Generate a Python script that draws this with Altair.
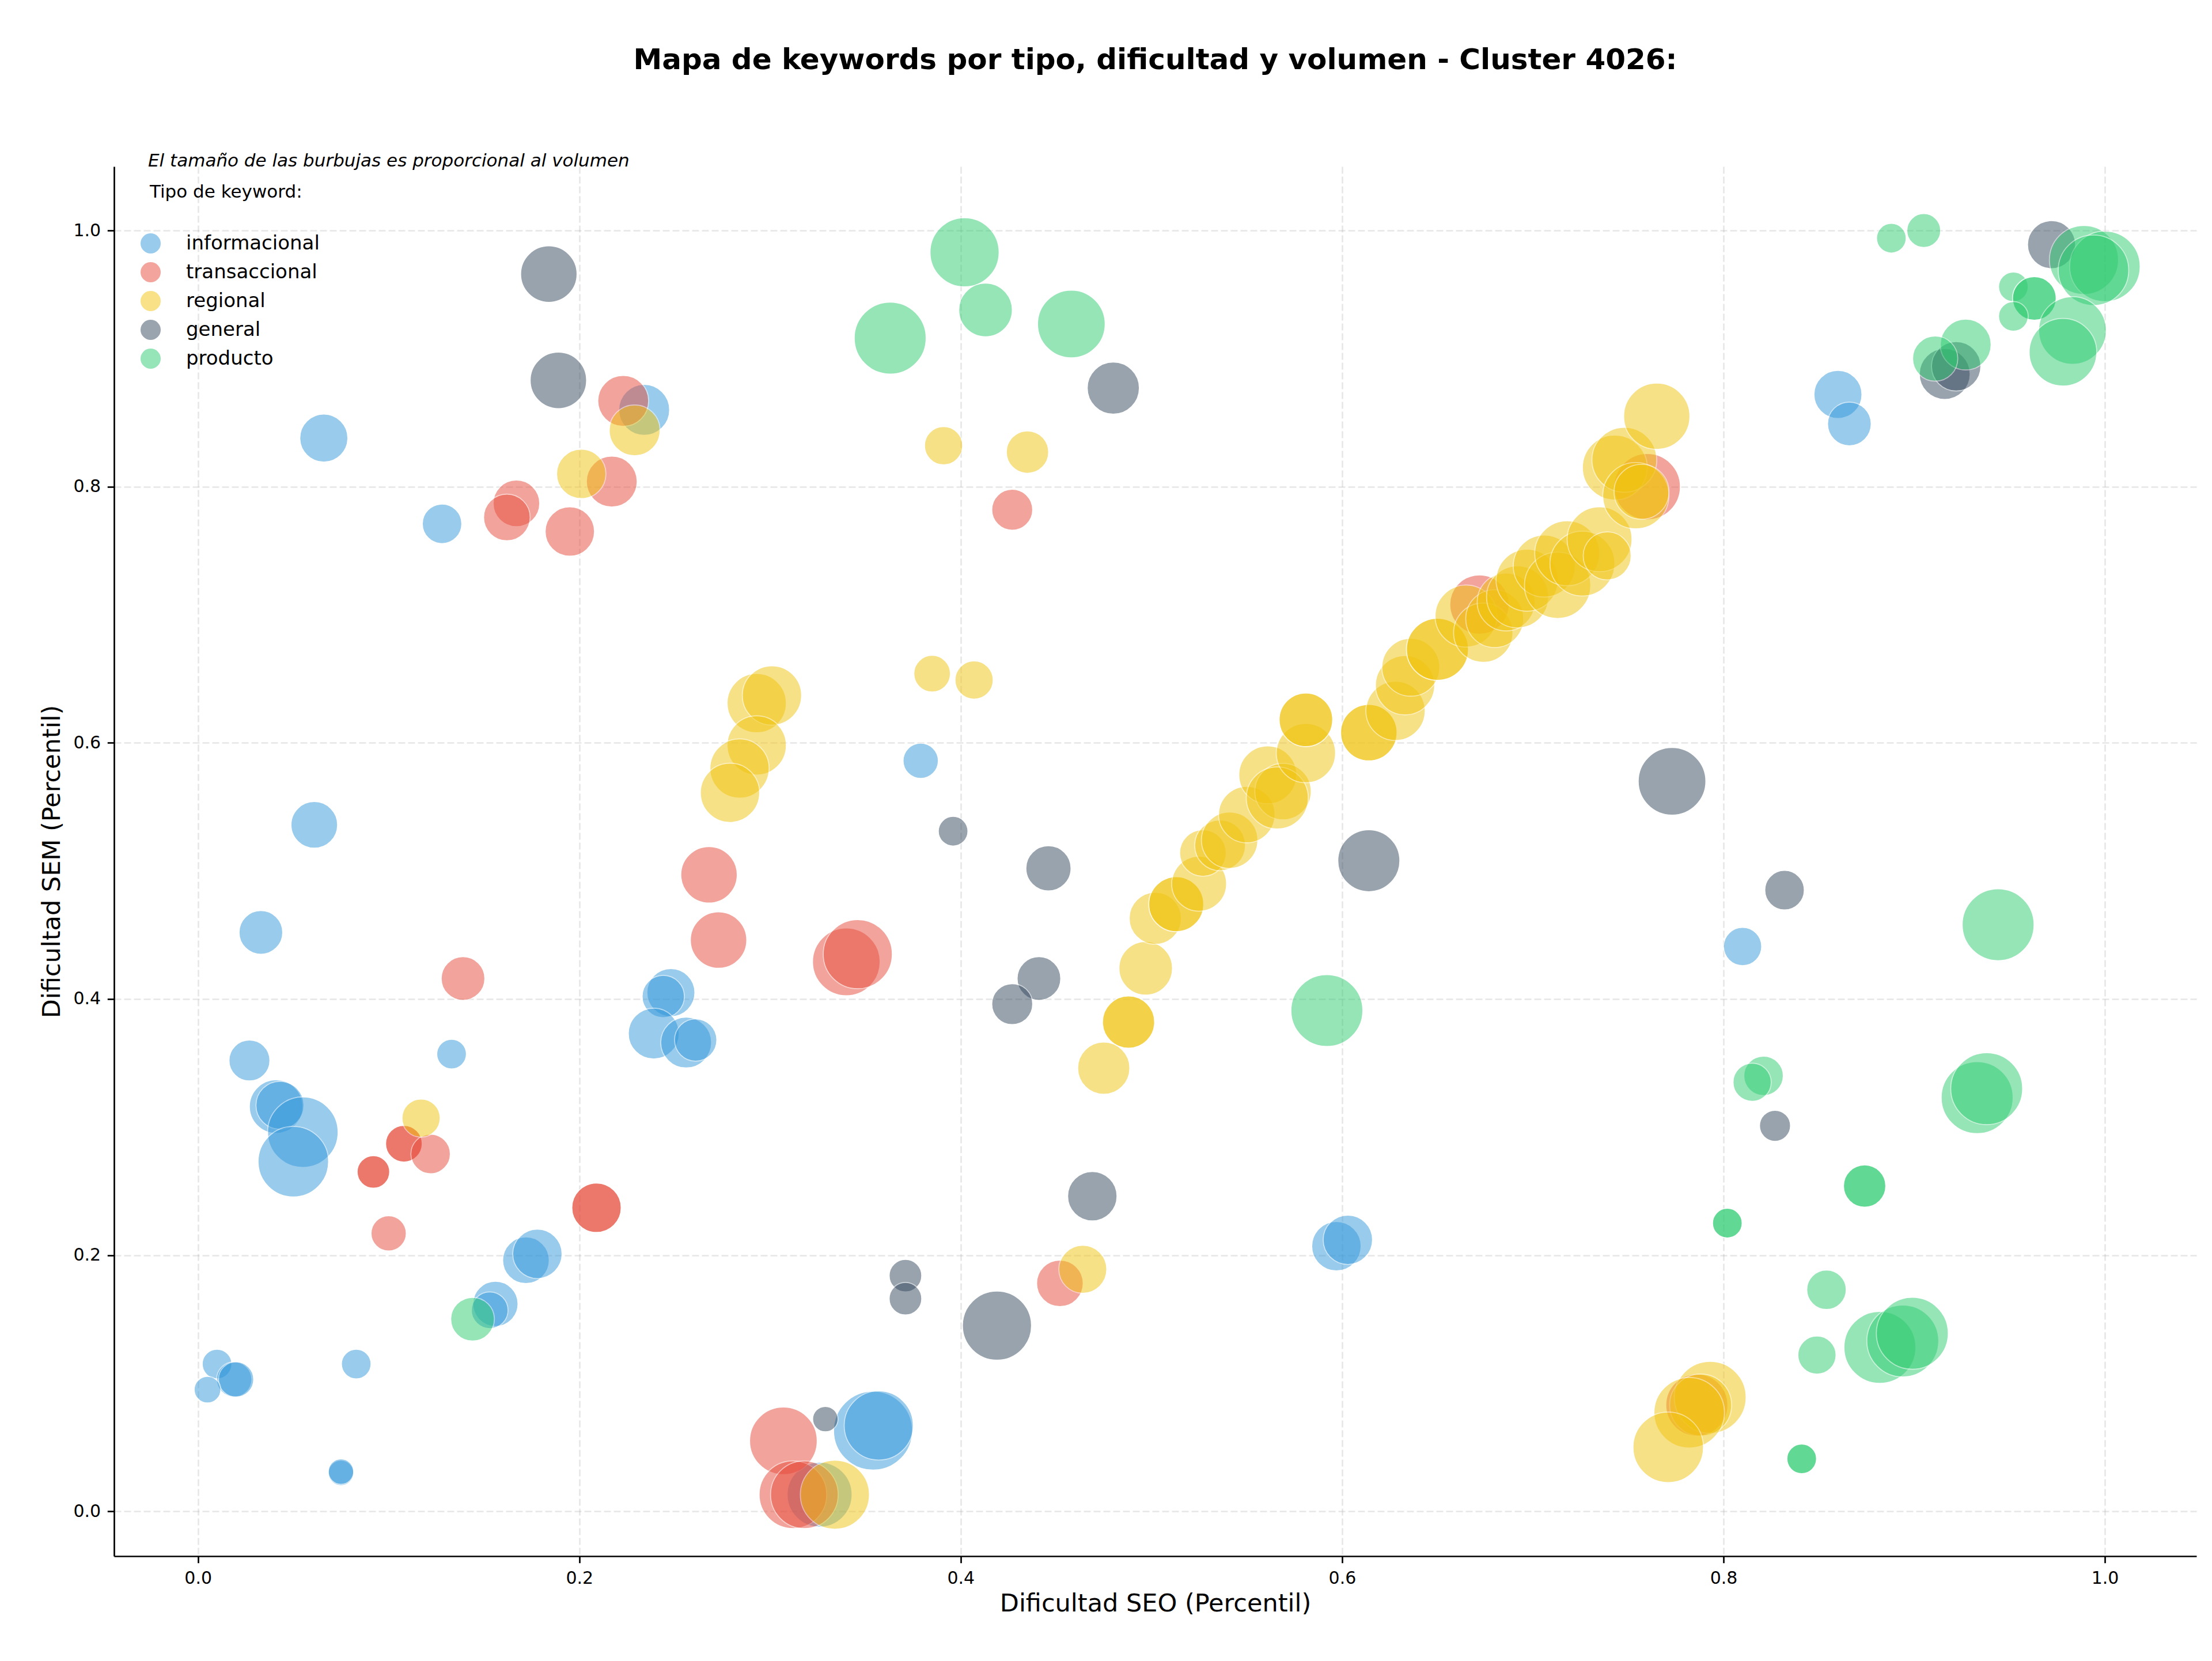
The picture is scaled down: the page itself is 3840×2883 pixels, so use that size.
import altair as alt
import pandas as pd

titulo = "Mapa de keywords por tipo, dificultad y volumen - Cluster 4026:"
nota = "El tamaño de las burbujas es proporcional al volumen"
tipos = ["informacional", "transaccional", "regional", "general", "producto"]
colores = ["#3498db", "#e74c3c", "#f1c40f", "#34495e", "#2ecc71"]
ticks = [0.0, 0.2, 0.4, 0.6, 0.8, 1.0]

info_seo = [0.066, 0.128, 0.061, 0.033, 0.027, 0.041, 0.043, 0.055, 0.050, 0.133,
            0.172, 0.178, 0.156, 0.153, 0.010, 0.019, 0.020, 0.005, 0.083, 0.075,
            0.075, 0.234, 0.248, 0.244, 0.239, 0.256, 0.261, 0.379, 0.354, 0.357,
            0.326, 0.597, 0.603, 0.810, 0.860, 0.866]
info_sem = [0.838, 0.771, 0.536, 0.452, 0.352, 0.316, 0.317, 0.296, 0.273, 0.357,
            0.196, 0.201, 0.162, 0.157, 0.115, 0.103, 0.103, 0.095, 0.115, 0.030,
            0.031, 0.860, 0.405, 0.402, 0.373, 0.366, 0.368, 0.586, 0.063, 0.067,
            0.013, 0.207, 0.212, 0.441, 0.872, 0.849]
info_vol = [695, 470, 655, 575, 505, 865, 695, 1500, 1500, 265,
            655, 735, 615, 405, 265, 375, 375, 215, 265, 195,
            195, 780, 695, 540, 780, 780, 540, 375, 1880, 1440,
            1270, 735, 735, 440, 695, 575]

trans_seo = [0.223, 0.217, 0.167, 0.162, 0.195, 0.139, 0.108, 0.108, 0.122, 0.092,
             0.092, 0.100, 0.209, 0.209, 0.268, 0.273, 0.340, 0.346, 0.427, 0.452,
             0.307, 0.312, 0.318, 0.672, 0.760, 0.786]
trans_sem = [0.867, 0.804, 0.787, 0.776, 0.765, 0.416, 0.287, 0.287, 0.279, 0.265,
             0.265, 0.217, 0.237, 0.237, 0.497, 0.446, 0.429, 0.435, 0.782, 0.178,
             0.055, 0.013, 0.013, 0.708, 0.800, 0.083]
trans_vol = [780, 780, 655, 655, 735, 575, 405, 405, 470, 320,
             320, 375, 735, 735, 960, 960, 1380, 1440, 505, 655,
             1380, 1380, 1380, 1060, 1325, 1160]

reg_seo = [0.229, 0.201, 0.117, 0.293, 0.301, 0.293, 0.284, 0.279, 0.391, 0.435,
           0.385, 0.407, 0.334, 0.464, 0.475, 0.488, 0.488, 0.497, 0.502, 0.513,
           0.513, 0.525, 0.527, 0.536, 0.541, 0.550, 0.561, 0.569, 0.566, 0.581,
           0.581, 0.581, 0.614, 0.614, 0.628, 0.633, 0.636, 0.650, 0.650, 0.665,
           0.674, 0.680, 0.686, 0.692, 0.697, 0.706, 0.713, 0.718, 0.726, 0.735,
           0.739, 0.743, 0.748, 0.754, 0.757, 0.765, 0.793, 0.788, 0.782, 0.771]
reg_sem = [0.844, 0.810, 0.307, 0.631, 0.637, 0.598, 0.580, 0.561, 0.832, 0.827,
           0.654, 0.649, 0.013, 0.189, 0.346, 0.382, 0.382, 0.424, 0.463, 0.474,
           0.474, 0.490, 0.514, 0.520, 0.524, 0.544, 0.575, 0.562, 0.557, 0.592,
           0.618, 0.618, 0.608, 0.608, 0.625, 0.645, 0.659, 0.673, 0.673, 0.699,
           0.686, 0.697, 0.710, 0.714, 0.727, 0.738, 0.723, 0.748, 0.740, 0.759,
           0.746, 0.815, 0.821, 0.793, 0.796, 0.855, 0.089, 0.083, 0.077, 0.050]
reg_vol = [780, 735, 440, 1060, 1060, 1060, 1060, 1060, 440, 540,
           405, 440, 1440, 695, 820, 820, 820, 865, 820, 910,
           910, 910, 655, 780, 960, 960, 1010, 960, 1160, 1060,
           865, 865, 960, 960, 1060, 1060, 1010, 1160, 1160, 1160,
           1060, 1010, 1010, 1160, 1160, 1160, 1325, 1270, 1270, 1270,
           695, 1270, 1270, 1325, 910, 1325, 1560, 1160, 1500, 1500]

gen_seo = [0.184, 0.189, 0.480, 0.972, 0.916, 0.922, 0.773, 0.614, 0.396, 0.446,
           0.441, 0.427, 0.469, 0.371, 0.371, 0.329, 0.419, 0.832, 0.827]
gen_sem = [0.966, 0.883, 0.877, 0.989, 0.888, 0.894, 0.570, 0.508, 0.531, 0.502,
           0.416, 0.396, 0.246, 0.184, 0.166, 0.072, 0.145, 0.485, 0.301]
gen_vol = [960, 960, 820, 695, 780, 735, 1380, 1160, 265, 615,
           575, 505, 735, 320, 320, 195, 1440, 470, 290]

prod_seo = [0.144, 0.402, 0.363, 0.413, 0.458, 0.592, 0.944, 0.821, 0.815, 0.933,
            0.938, 0.874, 0.874, 0.802, 0.802, 0.854, 0.849, 0.882, 0.894, 0.899,
            0.841, 0.841, 0.888, 0.905, 0.989, 1.000, 0.994, 0.952, 0.963, 0.963,
            0.952, 0.983, 0.978, 0.927, 0.911]
prod_sem = [0.150, 0.983, 0.916, 0.938, 0.927, 0.391, 0.458, 0.340, 0.335, 0.323,
            0.330, 0.254, 0.254, 0.225, 0.225, 0.173, 0.122, 0.128, 0.133, 0.139,
            0.041, 0.041, 0.994, 1.000, 0.977, 0.972, 0.969, 0.956, 0.947, 0.947,
            0.933, 0.922, 0.905, 0.911, 0.900]
prod_vol = [575, 1440, 1560, 865, 1380, 1560, 1560, 470, 440, 1560,
            1560, 540, 540, 265, 265, 470, 440, 1560, 1560, 1560,
            265, 265, 265, 345, 1440, 1500, 1500, 265, 575, 575,
            265, 1380, 1380, 780, 615]

series = [
    ("informacional", info_seo, info_sem, info_vol),
    ("transaccional", trans_seo, trans_sem, trans_vol),
    ("regional", reg_seo, reg_sem, reg_vol),
    ("general", gen_seo, gen_sem, gen_vol),
    ("producto", prod_seo, prod_sem, prod_vol),
]
rows = []
for tipo, xs, ys, vs in series:
    for x, y, v in zip(xs, ys, vs):
        rows.append({"tipo": tipo, "seo": x, "sem": y, "volumen": v})
df = pd.DataFrame(rows)

FONT = "DejaVu Sans"

points = alt.Chart(df).mark_point(
    shape="circle", filled=True, opacity=0.5, stroke="white", strokeWidth=1.7
).encode(
    x=alt.X("seo:Q", title="Dificultad SEO (Percentil)",
            scale=alt.Scale(domain=[-0.044, 1.048], nice=False, zero=False),
            axis=alt.Axis(values=ticks, format=".1f", titlePadding=8)),
    y=alt.Y("sem:Q", title="Dificultad SEM (Percentil)",
            scale=alt.Scale(domain=[-0.035, 1.05], nice=False, zero=False),
            axis=alt.Axis(values=ticks, format=".1f", titlePadding=14)),
    color=alt.Color("tipo:N", scale=alt.Scale(domain=tipos, range=colores),
                    sort=tipos,
                    legend=alt.Legend(
                        orient="none", legendX=62, legendY=30, padding=0,
                        title="Tipo de keyword:", titleFontSize=31, titleFont=FONT,
                        titleFontWeight="normal", titleColor="black",
                        titleLimit=2000, labelLimit=2000,
                        titlePadding=55, labelFontSize=34, labelFont=FONT,
                        labelColor="black", labelOffset=44, rowPadding=15,
                        symbolOffset=-16,
                        symbolType="circle", symbolSize=1225, symbolOpacity=0.5,
                        symbolStrokeWidth=0, direction="vertical")),
    size=alt.Size("volumen:Q", scale=alt.Scale(domain=[0, 2000], range=[0, 20000]),
                  legend=None),
)

nota_df = pd.DataFrame({"t": [nota]})
note = alt.Chart(nota_df).mark_text(
    align="left", baseline="middle", fontStyle="italic", fontSize=31, font=FONT,
    color="black"
).encode(text="t:N", x=alt.value(59), y=alt.value(-9))

chart = alt.layer(points, note).properties(
    width=3615, height=2412,
    background="white",
    padding={"left": 198, "top": 289, "right": 27, "bottom": 182},
    autosize=alt.AutoSizeParams(type="none"),
    title=alt.TitleParams(titulo, fontSize=50, fontWeight="bold", font=FONT,
                          anchor="middle", offset=134, color="black"),
).configure_view(strokeWidth=0).configure_axis(
    domainColor="black", domainWidth=2.7, tickColor="black", tickWidth=2.7,
    tickSize=11.7, labelFontSize=30, labelFont=FONT, labelColor="black",
    labelPadding=11.7, titleFontSize=43, titleFont=FONT, titleFontWeight="normal",
    titleColor="black", grid=True, gridColor="#b0b0b0", gridOpacity=0.3,
    gridDash=[12, 5], gridWidth=2.7, labelFlush=False
)

chart.save("out.html", embed_options={"renderer": "svg", "actions": False})
